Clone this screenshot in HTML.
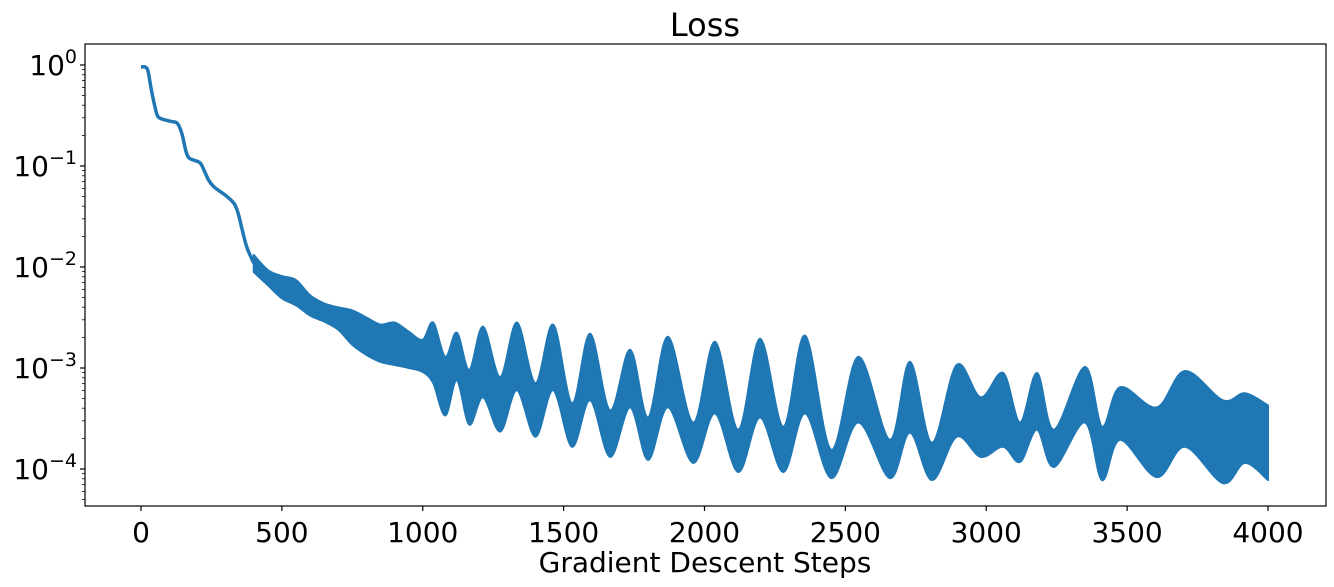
<!DOCTYPE html>
<html><head><meta charset="utf-8">
<style>
html,body{margin:0;padding:0;background:#fff;}
svg{display:block;font-family:"DejaVu Sans","Liberation Sans",sans-serif;}
</style></head>
<body>
<svg id="chart" width="1334" height="587" viewBox="0 0 1334 587" xmlns="http://www.w3.org/2000/svg">
<rect x="0" y="0" width="1334" height="587" fill="#fff"/>
<text x="705" y="36" font-size="32" text-anchor="middle" fill="#000">Loss</text>
<text x="705" y="572" font-size="28" text-anchor="middle" fill="#000">Gradient Descent Steps</text>
<g id="plot"></g>
<g id="axes"></g>
</svg>
<script>
const earlySteps = [0,15,25,35,50,60,80,110,130,145,160,170,185,210,225,240,260,300,330,345,360,375,390,400];
const earlyLogLoss = [-0.02,-0.02,-0.06,-0.22,-0.42,-0.51,-0.54,-0.56,-0.58,-0.68,-0.86,-0.92,-0.94,-0.97,-1.05,-1.14,-1.21,-1.29,-1.37,-1.47,-1.64,-1.80,-1.90,-1.96];
const bandSteps = [400,450,500,550,600,650,700,750,800,850,900,950,1000,1037,1080,1121,1165,1214,1275,1334,1400,1463,1530,1594,1665,1736,1800,1870,1960,2037,2120,2197,2280,2357,2450,2546,2658,2729,2807,2895,2980,3060,3120,3180,3240,3350,3411,3475,3605,3705,3840,3918,4000];
const bandLogHi = [-1.88,-2.03,-2.09,-2.13,-2.28,-2.36,-2.40,-2.43,-2.50,-2.57,-2.55,-2.64,-2.72,-2.55,-2.89,-2.65,-3.02,-2.59,-3.09,-2.55,-3.15,-2.57,-3.35,-2.66,-3.42,-2.82,-3.49,-2.69,-3.54,-2.74,-3.61,-2.71,-3.58,-2.68,-3.81,-2.89,-3.71,-2.94,-3.74,-2.97,-3.29,-3.05,-3.54,-3.05,-3.61,-2.99,-3.58,-3.19,-3.39,-3.03,-3.32,-3.25,-3.37];
const bandLogLo = [-2.05,-2.18,-2.31,-2.38,-2.48,-2.54,-2.62,-2.77,-2.87,-2.94,-2.97,-3.00,-3.04,-3.15,-3.47,-3.12,-3.56,-3.29,-3.63,-3.22,-3.68,-3.22,-3.78,-3.32,-3.88,-3.39,-3.91,-3.39,-3.94,-3.45,-4.03,-3.49,-4.03,-3.45,-4.09,-3.54,-4.09,-3.64,-4.11,-3.68,-3.88,-3.78,-3.93,-3.61,-3.98,-3.54,-4.11,-3.71,-4.08,-3.78,-4.14,-3.94,-4.11];
const xTicks = [0,500,1000,1500,2000,2500,3000,3500,4000];
const yTicks = [0,-1,-2,-3,-4];

const NS = "http://www.w3.org/2000/svg";
const L = 85, R = 1326, T = 44, B = 506;
const xs = s => 141 + s * (1127/4000);
const ys = e => 65 - e * 101;
const plot = document.getElementById('plot');
const axes = document.getElementById('axes');
function mk(tag, attrs, parent){ const el = document.createElementNS(NS, tag); for (const k in attrs) el.setAttribute(k, attrs[k]); parent.appendChild(el); return el; }
function smooth(p, start){
  let d = (start ? 'M' : 'L') + p[0][0].toFixed(1)+' '+p[0][1].toFixed(1);
  for (let i=0;i<p.length-1;i++){
    const p0=p[Math.max(0,i-1)], p1=p[i], p2=p[i+1], p3=p[Math.min(p.length-1,i+2)];
    const k=0.5/3;
    const c1=[p1[0]+(p2[0]-p0[0])*k, p1[1]+(p2[1]-p0[1])*k];
    const c2=[p2[0]-(p3[0]-p1[0])*k, p2[1]-(p3[1]-p1[1])*k];
    d+=' C'+c1[0].toFixed(1)+' '+c1[1].toFixed(1)+' '+c2[0].toFixed(1)+' '+c2[1].toFixed(1)+' '+p2[0].toFixed(1)+' '+p2[1].toFixed(1);
  }
  return d;
}

const earlyPts = earlySteps.map((s,i)=>[xs(s), ys(earlyLogLoss[i])]);
const early = mk('path', {d:smooth(earlyPts,true), fill:'none', stroke:'#1f77b4', 'stroke-width':3.5, 'stroke-linejoin':'round'}, plot);



const hiPts = bandSteps.map((s,i)=>[xs(s), ys(bandLogHi[i])]);
const loPts = bandSteps.map((s,i)=>[xs(s), ys(bandLogLo[i])]).reverse();
const bd = smooth(hiPts,true) + ' ' + smooth(loPts,false) + ' Z';
const band = mk('path', {d:bd, fill:'#1f77b4', stroke:'#1f77b4', 'stroke-width':2, 'stroke-linejoin':'round'}, plot);



const frame = mk('rect', {x:L, y:T, width:R-L, height:B-T, fill:'none', stroke:'#000', 'stroke-width':1.2}, axes);



xTicks.forEach(t=>{
  const x = xs(t);
  const tk = mk('line', {x1:x, x2:x, y1:B, y2:B+5, stroke:'#000', 'stroke-width':1.2}, axes);
  
  
  const lb = mk('text', {x:x, y:B+36, 'font-size':28, 'text-anchor':'middle', fill:'#000'}, axes);
  lb.textContent = String(t);
  
  
});

yTicks.forEach(e=>{
  const y = ys(e);
  const tk = mk('line', {x1:L-5, x2:L, y1:y, y2:y, stroke:'#000', 'stroke-width':1.2}, axes);
  
  
  const lb = mk('text', {x:L-8, y:y+10, 'font-size':28, 'text-anchor':'end', fill:'#000'}, axes);
  const base = document.createElementNS(NS,'tspan'); base.textContent = '10'; lb.appendChild(base);
  const sup = document.createElementNS(NS,'tspan');
  sup.setAttribute('dy', -12); sup.setAttribute('font-size', 19);
  sup.textContent = e === 0 ? '0' : '\u2212' + (-e);
  lb.appendChild(sup);
  
  
  for (let m = 2; m <= 9; m++) {
    const ym = ys(e - 1 + Math.log10(m));
    if (ym > T && ym < B) {
      const mt = mk('line', {x1:L-3, x2:L, y1:ym, y2:ym, stroke:'#000', 'stroke-width':0.8}, axes);
      
      
    }
  }
});
</script>
</body></html>
